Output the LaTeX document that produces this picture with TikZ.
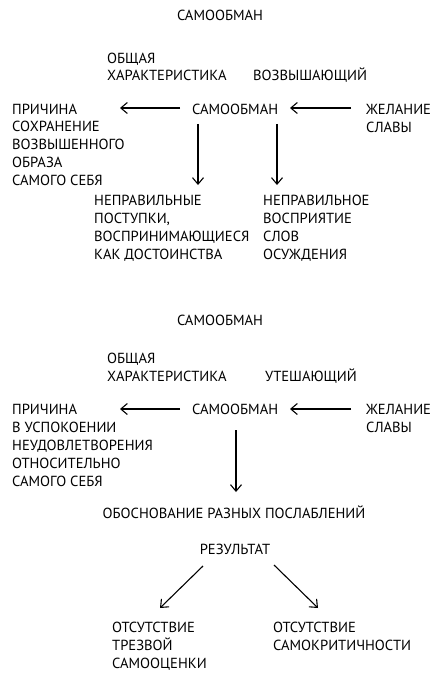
\documentclass[tikz,border=0pt]{standalone}
\usepackage{fontspec}
\setmainfont{PT Sans}
\usetikzlibrary{arrows.meta}
\begin{document}
\begin{tikzpicture}[x=1pt,y=-1pt,
  txt/.style={inner sep=0pt, anchor=base west, align=left, font=\fontsize{14.6}{17.9}\selectfont},
  ctr/.style={inner sep=0pt, anchor=base, font=\fontsize{14.6}{17.9}\selectfont},
  arr/.style={-{Straight Barb[length=6.5pt,width=11pt]}, line width=1.1pt}]
\fill[white] (0,0) rectangle (440,682);
\path[use as bounding box] (0,0) rectangle (440,682);
% part 1
\node[ctr] (t1) at (220,21) {САМООБМАН};
\node[txt] (ob1) at (107,81) {ОБЩАЯ\\ХАРАКТЕРИСТИКА};
\node[txt] (voz) at (253,81) {ВОЗВЫШАЮЩИЙ};
\node[txt] (pr1) at (12,185.6) {ПРИЧИНА\\СОХРАНЕНИЕ\\ВОЗВЫШЕННОГО\\ОБРАЗА\\САМОГО СЕБЯ};
\node[txt] (sam1) at (192,114) {САМООБМАН};
\node[txt] (zh1) at (366,132) {ЖЕЛАНИЕ\\СЛАВЫ};
\node[txt] (np1) at (94,259) {НЕПРАВИЛЬНЫЕ\\ПОСТУПКИ,\\ВОСПРИНИМАЮЩИЕСЯ\\КАК ДОСТОИНСТВА};
\node[txt] (np2) at (263,259) {НЕПРАВИЛЬНОЕ\\ВОСПРИЯТИЕ\\СЛОВ\\ОСУЖДЕНИЯ};
\coordinate (a1s) at (180,108); \coordinate (a1e) at (120,108);
\coordinate (a2s) at (351,108); \coordinate (a2e) at (290,108);
\coordinate (a3s) at (198,124); \coordinate (a3e) at (198,185);
\coordinate (a4s) at (277,124); \coordinate (a4e) at (277,185);
\draw[arr] (a1s) -- (a1e);
\draw[arr] (a2s) -- (a2e);
\draw[arr] (a3s) -- (a3e);
\draw[arr] (a4s) -- (a4e);
% part 2
\node[ctr] (t2) at (220,325) {САМООБМАН};
\node[txt] (ob2) at (107,381) {ОБЩАЯ\\ХАРАКТЕРИСТИКА};
\node[txt] (ut) at (265,381) {УТЕШАЮЩИЙ};
\node[txt] (pr2) at (12,486) {ПРИЧИНА\\В УСПОКОЕНИИ\\НЕУДОВЛЕТВОРЕНИЯ\\ОТНОСИТЕЛЬНО\\САМОГО СЕБЯ};
\node[txt] (sam2) at (192,414.5) {САМООБМАН};
\node[txt] (zh2) at (366,432.4) {ЖЕЛАНИЕ\\СЛАВЫ};
\node[ctr] (obo) at (234,518) {ОБОСНОВАНИЕ РАЗНЫХ ПОСЛАБЛЕНИЙ};
\node[ctr] (res) at (235,554) {РЕЗУЛЬТАТ};
\node[txt] (ot1) at (112,668) {ОТСУТСТВИЕ\\ТРЕЗВОЙ\\САМООЦЕНКИ};
\node[txt] (ot2) at (273,650) {ОТСУТСТВИЕ\\САМОКРИТИЧНОСТИ};
\coordinate (b1s) at (180,409); \coordinate (b1e) at (120,409);
\coordinate (b2s) at (351,409); \coordinate (b2e) at (290,409);
\coordinate (b3s) at (236,430); \coordinate (b3e) at (236,492);
\coordinate (b4s) at (203,566); \coordinate (b4e) at (160,608);
\coordinate (b5s) at (274,565); \coordinate (b5e) at (318,608);
\draw[arr] (b1s) -- (b1e);
\draw[arr] (b2s) -- (b2e);
\draw[arr] (b3s) -- (b3e);
\draw[arr] (b4s) -- (b4e);
\draw[arr] (b5s) -- (b5e);
\end{tikzpicture}
\end{document}
